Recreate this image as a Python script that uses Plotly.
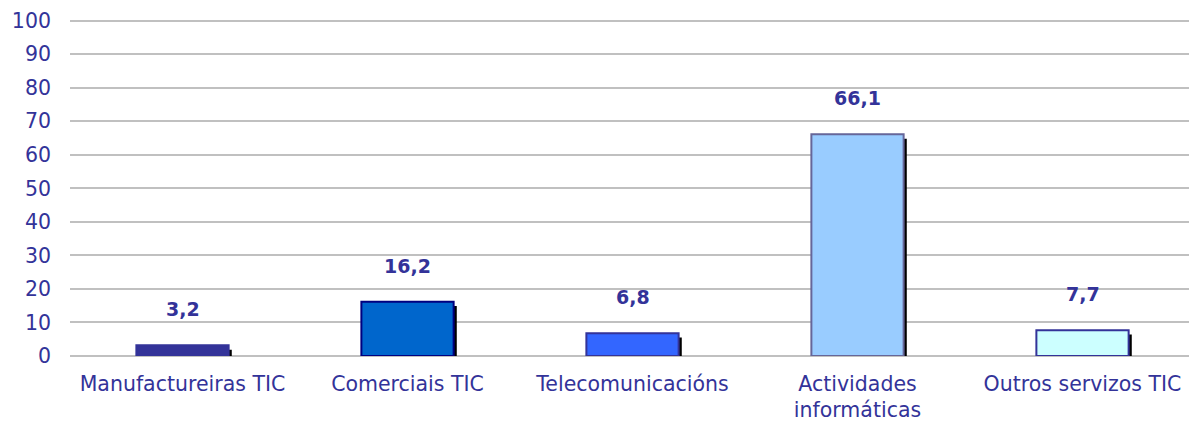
import plotly.graph_objects as go

categories = ["Manufactureiras TIC", "Comerciais TIC", "Telecomunicacións",
              "Actividades<br>informáticas", "Outros servizos TIC"]
values = [3.2, 16.2, 6.8, 66.1, 7.7]
value_labels = ["3,2", "16,2", "6,8", "66,1", "7,7"]
fill_colors = ["#333399", "#0066CC", "#3366FF", "#99CCFF", "#CCFFFF"]
line_colors = ["#333399", "#000080", "#333399", "#666699", "#333399"]
tick_vals = [0, 10, 20, 30, 40, 50, 60, 70, 80, 90, 100]

TXT = "#333399"
FONT = "DejaVu Sans, Verdana, sans-serif"

fig = go.Figure()
# shadow
fig.add_trace(go.Bar(
    x=categories, y=[v - 1.3 for v in values], width=0.41, offset=-0.205 + 0.014,
    marker=dict(color="black", line=dict(width=0)), hoverinfo="skip", showlegend=False))
fig.add_trace(go.Bar(
    x=categories, y=values, width=0.41, offset=-0.205,
    marker=dict(color=fill_colors, line=dict(color=line_colors, width=2)),
    showlegend=False))

for c, v, t in zip(categories, values, value_labels):
    fig.add_annotation(x=c, y=v, text="<b>" + t + "</b>", showarrow=False,
                       yshift=36, font=dict(family=FONT, size=19, color=TXT))

fig.update_layout(
    width=1189, height=415,
    margin=dict(l=62, r=2, t=11, b=67, autoexpand=False),
    paper_bgcolor="white", plot_bgcolor="white",
    barmode="overlay",
    font=dict(family=FONT, color=TXT),
    xaxis=dict(showline=False, showgrid=False, tickfont=dict(size=20.5, color=TXT),
               ticks="", range=[-0.5, 4.5], automargin=False, ticklabelstandoff=13),
    yaxis=dict(range=[0, 100.5], tickvals=tick_vals, showgrid=True, gridcolor="#C0C0C0",
               gridwidth=2, zeroline=True, zerolinecolor="#C0C0C0", zerolinewidth=2,
               showline=False, tickfont=dict(size=20.5, color=TXT), ticks="",
               ticklabelstandoff=18, automargin=False, ticklabeloverflow="allow"),
)

fig.write_html("out.html")
